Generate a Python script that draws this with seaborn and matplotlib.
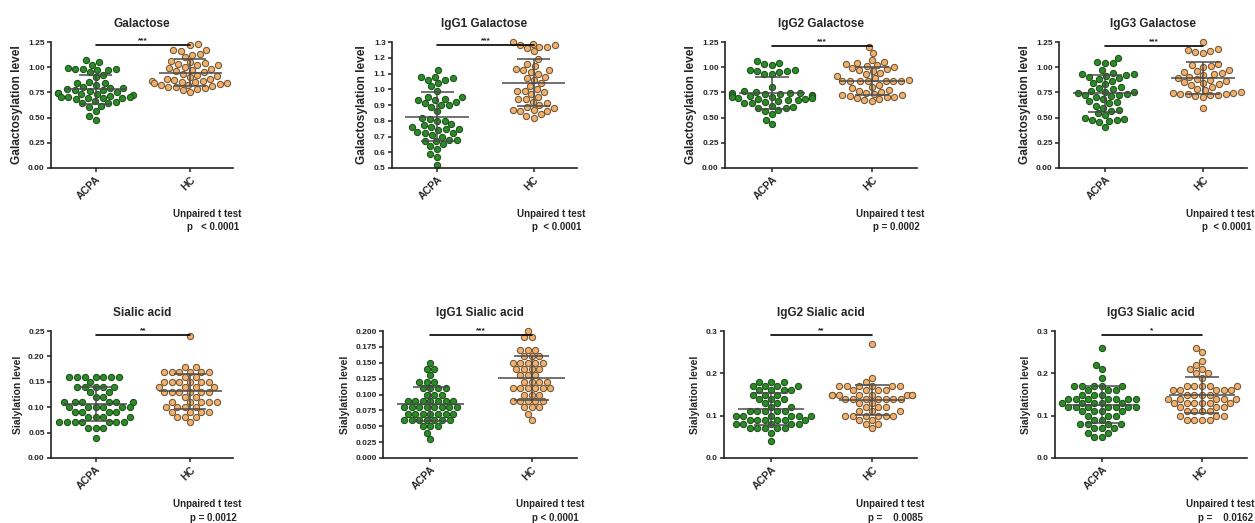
import numpy as np
import pandas as pd
import matplotlib
matplotlib.use("Agg")
import matplotlib.pyplot as plt
import seaborn as sns

sns.set_style("ticks")
plt.rcParams['font.family'] = ['Liberation Sans', 'DejaVu Sans']
plt.rcParams['font.weight'] = 'bold'

groups = ["ACPA", "HC"]

titles = ["Galactose", "IgG1 Galactose", "IgG2 Galactose", "IgG3 Galactose",
          "Sialic acid", "IgG1 Sialic acid", "IgG2 Sialic acid", "IgG3 Sialic acid"]
ylabels = ["Galactosylation level"] * 4 + ["Sialylation level"] * 4
stars = ["***", "***", "***", "***", "**", "***", "**", "*"]
pvals = ["p   < 0.0001", "p  < 0.0001", "p = 0.0002", "p  < 0.0001",
         "p = 0.0012", "p < 0.0001", "p =    0.0085", "p =    0.0162"]
yticks = [
    [0.00, 0.25, 0.50, 0.75, 1.00, 1.25],
    [0.5, 0.6, 0.7, 0.8, 0.9, 1.0, 1.1, 1.2, 1.3],
    [0.00, 0.25, 0.50, 0.75, 1.00, 1.25],
    [0.00, 0.25, 0.50, 0.75, 1.00, 1.25],
    [0.00, 0.05, 0.10, 0.15, 0.20, 0.25],
    [0.000, 0.025, 0.050, 0.075, 0.100, 0.125, 0.150, 0.175, 0.200],
    [0.0, 0.1, 0.2, 0.3],
    [0.0, 0.1, 0.2, 0.3],
]
ytick_fmt = ["{:.2f}", "{:.1f}", "{:.2f}", "{:.2f}", "{:.2f}", "{:.3f}", "{:.1f}", "{:.1f}"]
bar_y = [1.22, 1.28, 1.21, 1.21, 0.243, 0.194, 0.29, 0.29]

# ---- data ----
acpa_gal = [1.02, 1.05, 1.07, 0.98, 0.98, 0.97, 0.98, 0.99, 0.97, 0.95, 0.92, 0.90, 0.84, 0.84,
            0.85, 0.82, 0.80, 0.79, 0.79, 0.78, 0.77, 0.77, 0.76, 0.75, 0.74, 0.74, 0.73, 0.73,
            0.72, 0.71, 0.70, 0.70, 0.69, 0.69, 0.70, 0.69, 0.68, 0.66, 0.65, 0.64, 0.64, 0.62,
            0.61, 0.57, 0.52, 0.48]
hc_gal = [1.23, 1.22, 1.17, 1.17, 1.16, 1.13, 1.12, 1.10, 1.06, 1.05, 1.04, 1.03, 1.02, 1.02,
          1.00, 0.99, 0.98, 0.97, 0.96, 0.95, 0.93, 0.92, 0.90, 0.88, 0.87, 0.86, 0.86, 0.85,
          0.84, 0.84, 0.83, 0.82, 0.82, 0.81, 0.80, 0.80, 0.79, 0.78, 0.77, 0.75, 0.85, 0.88, 0.91]

acpa_g1gal = [1.12, 1.08, 1.08, 1.07, 1.06, 1.06, 1.04, 1.02, 0.99, 0.95, 0.95, 0.94, 0.93, 0.93,
              0.92, 0.91, 0.90, 0.90, 0.89, 0.86, 0.82, 0.81, 0.80, 0.80, 0.78, 0.77, 0.76, 0.76,
              0.75, 0.75, 0.74, 0.73, 0.72, 0.72, 0.71, 0.70, 0.68, 0.68, 0.67, 0.67, 0.65, 0.64,
              0.62, 0.59, 0.57, 0.52]
hc_g1gal = [1.30, 1.29, 1.28, 1.28, 1.27, 1.27, 1.26, 1.24, 1.19, 1.16, 1.15, 1.13, 1.12, 1.12,
            1.11, 1.10, 1.08, 1.07, 1.06, 1.04, 1.02, 1.00, 0.99, 0.99, 0.98, 0.97, 0.95, 0.94,
            0.94, 0.92, 0.91, 0.90, 0.89, 0.88, 0.87, 0.87, 0.86, 0.86, 0.84, 0.83, 0.82]

acpa_g2gal = [1.06, 1.04, 1.03, 1.02, 0.97, 0.97, 0.96, 0.96, 0.95, 0.93, 0.93, 0.80, 0.76, 0.75,
              0.74, 0.74, 0.74, 0.73, 0.73, 0.72, 0.72, 0.71, 0.71, 0.70, 0.70, 0.69, 0.69, 0.68,
              0.68, 0.67, 0.67, 0.66, 0.65, 0.64, 0.64, 0.62, 0.61, 0.60, 0.60, 0.58, 0.57, 0.54,
              0.48, 0.44]
hc_g2gal = [1.20, 1.14, 1.07, 1.05, 1.04, 1.03, 1.02, 1.01, 1.00, 0.99, 0.98, 0.97, 0.96, 0.94,
            0.93, 0.91, 0.89, 0.87, 0.86, 0.86, 0.86, 0.86, 0.86, 0.86, 0.86, 0.82, 0.80, 0.79,
            0.77, 0.76, 0.75, 0.74, 0.73, 0.72, 0.72, 0.71, 0.70, 0.70, 0.69, 0.68, 0.67, 0.66]

acpa_g3gal = [1.09, 1.05, 1.04, 1.04, 0.97, 0.94, 0.93, 0.93, 0.92, 0.91, 0.90, 0.89, 0.88, 0.86,
              0.84, 0.83, 0.80, 0.79, 0.78, 0.76, 0.75, 0.75, 0.74, 0.73, 0.72, 0.72, 0.71, 0.70,
              0.68, 0.66, 0.65, 0.64, 0.62, 0.60, 0.58, 0.57, 0.55, 0.53, 0.50, 0.49, 0.48, 0.48,
              0.47, 0.46, 0.41]
hc_g3gal = [1.25, 1.18, 1.17, 1.16, 1.15, 1.14, 1.03, 1.02, 1.01, 1.00, 0.97, 0.96, 0.95, 0.94,
            0.93, 0.92, 0.90, 0.89, 0.88, 0.87, 0.86, 0.85, 0.84, 0.83, 0.82, 0.80, 0.78, 0.77,
            0.75, 0.74, 0.74, 0.73, 0.73, 0.73, 0.72, 0.72, 0.71, 0.70, 0.60]

acpa_sia = [0.16, 0.16, 0.16, 0.16, 0.16, 0.16, 0.16, 0.15, 0.14, 0.14, 0.14, 0.14, 0.14,
            0.13, 0.13, 0.12, 0.12, 0.11, 0.11, 0.11, 0.11, 0.11, 0.11, 0.10, 0.10, 0.10, 0.10,
            0.10, 0.10, 0.09, 0.09, 0.09, 0.09, 0.08, 0.08, 0.08, 0.08, 0.07, 0.07, 0.07, 0.07,
            0.07, 0.07, 0.07, 0.06, 0.06, 0.06, 0.04]
hc_sia = [0.24, 0.18, 0.18, 0.17, 0.17, 0.17, 0.17, 0.17, 0.17, 0.16, 0.16, 0.15, 0.15, 0.15,
          0.15, 0.15, 0.15, 0.14, 0.14, 0.14, 0.14, 0.13, 0.13, 0.13, 0.13, 0.13, 0.13, 0.12,
          0.12, 0.11, 0.11, 0.11, 0.11, 0.11, 0.10, 0.10, 0.10, 0.10, 0.09, 0.09, 0.09, 0.09,
          0.08, 0.08, 0.08, 0.07]

acpa_g1sia = [0.15, 0.14, 0.14, 0.13, 0.12, 0.12, 0.12, 0.11, 0.11, 0.11, 0.11, 0.10, 0.10, 0.10,
              0.09, 0.09, 0.09, 0.09, 0.09, 0.09, 0.09, 0.08, 0.08, 0.08, 0.08, 0.08, 0.08, 0.08,
              0.08, 0.07, 0.07, 0.07, 0.07, 0.07, 0.07, 0.07, 0.06, 0.06, 0.06, 0.06, 0.06, 0.06,
              0.06, 0.05, 0.05, 0.05, 0.04, 0.03]
hc_g1sia = [0.20, 0.19, 0.19, 0.17, 0.17, 0.17, 0.16, 0.16, 0.16, 0.15, 0.15, 0.15, 0.15, 0.15,
            0.14, 0.14, 0.14, 0.14, 0.13, 0.13, 0.13, 0.12, 0.12, 0.12, 0.12, 0.11, 0.11, 0.11,
            0.11, 0.11, 0.11, 0.10, 0.10, 0.10, 0.09, 0.09, 0.09, 0.09, 0.09, 0.08, 0.08, 0.08,
            0.07, 0.06]

acpa_g2sia = [0.18, 0.18, 0.18, 0.17, 0.17, 0.17, 0.17, 0.16, 0.16, 0.16, 0.16, 0.15, 0.15, 0.15,
              0.14, 0.14, 0.14, 0.13, 0.13, 0.12, 0.12, 0.11, 0.11, 0.11, 0.11, 0.11, 0.10, 0.10,
              0.10, 0.10, 0.10, 0.10, 0.09, 0.09, 0.09, 0.09, 0.09, 0.09, 0.08, 0.08, 0.08, 0.08,
              0.08, 0.07, 0.07, 0.07, 0.07, 0.07, 0.06, 0.04]
hc_g2sia = [0.27, 0.19, 0.18, 0.17, 0.17, 0.17, 0.17, 0.17, 0.17, 0.16, 0.16, 0.16, 0.16, 0.15,
            0.15, 0.15, 0.15, 0.15, 0.15, 0.15, 0.15, 0.14, 0.14, 0.14, 0.14, 0.14, 0.14, 0.14,
            0.13, 0.13, 0.12, 0.12, 0.12, 0.11, 0.11, 0.11, 0.10, 0.10, 0.10, 0.10, 0.10, 0.10,
            0.09, 0.09, 0.08, 0.08, 0.07]

acpa_g3sia = [0.26, 0.22, 0.21, 0.19, 0.17, 0.17, 0.17, 0.17, 0.17, 0.16, 0.16, 0.16, 0.15, 0.15,
              0.15, 0.14, 0.14, 0.14, 0.14, 0.14, 0.14, 0.14, 0.13, 0.13, 0.13, 0.13, 0.13, 0.12,
              0.12, 0.12, 0.12, 0.12, 0.12, 0.12, 0.11, 0.11, 0.11, 0.11, 0.10, 0.10, 0.10, 0.09,
              0.09, 0.08, 0.08, 0.08, 0.08, 0.07, 0.07, 0.07, 0.06, 0.06, 0.05, 0.05]
hc_g3sia = [0.26, 0.25, 0.23, 0.22, 0.21, 0.21, 0.20, 0.20, 0.19, 0.17, 0.17, 0.17, 0.17, 0.17,
            0.16, 0.16, 0.16, 0.16, 0.16, 0.15, 0.15, 0.15, 0.15, 0.14, 0.14, 0.14, 0.14, 0.14,
            0.13, 0.13, 0.13, 0.13, 0.13, 0.13, 0.12, 0.12, 0.12, 0.11, 0.11, 0.11, 0.11, 0.10,
            0.10, 0.10, 0.09, 0.09, 0.09, 0.09]

acpa_sets = [acpa_gal, acpa_g1gal, acpa_g2gal, acpa_g3gal, acpa_sia, acpa_g1sia, acpa_g2sia, acpa_g3sia]
hc_sets = [hc_gal, hc_g1gal, hc_g2gal, hc_g3gal, hc_sia, hc_g1sia, hc_g2sia, hc_g3sia]

# ---- styling ----
fill = {"ACPA": "#2c8a28", "HC": "#f2b070"}
edge = {"ACPA": "#1d4f1a", "HC": "#6e5530"}
line_col = "#4a4a4a"

W, H = 1255, 523
fig = plt.figure(figsize=(W / 100, H / 100), dpi=100)

# axes boxes in pixels: (left, right, top, bottom)
boxes = [
    (51, 233, 42, 168), (392, 577, 42, 168), (725, 917, 42, 168), (1059, 1247, 42, 168),
    (51, 233, 331, 458), (383, 577, 331, 458), (724, 917, 331, 458), (1055, 1247, 331, 458),
]

for i in range(8):
    l, r, t, b = boxes[i]
    ax = fig.add_axes([l / W, 1 - b / H, (r - l) / W, (b - t) / H])
    a, h = acpa_sets[i], hc_sets[i]
    df = pd.DataFrame({"group": ["ACPA"] * len(a) + ["HC"] * len(h), "value": a + h})
    for g in groups:
        n0 = len(ax.collections)
        sns.swarmplot(data=df[df.group == g], x="group", y="value", order=groups,
                      color=fill[g], size=4.5, linewidth=0.75, ax=ax, zorder=2, warn_thresh=1)
        for c in ax.collections[n0:]:
            c.set_edgecolor(edge[g])
            c.set_clip_on(False)
    # mean +/- SD
    for k, vals in enumerate([a, h]):
        m = np.mean(vals)
        s = np.std(vals, ddof=1)
        ax.hlines(m, k - 0.33, k + 0.33, color=line_col, lw=1.1, zorder=3)
        ax.hlines([m - s, m + s], k - 0.17, k + 0.17, color=line_col, lw=1.1, zorder=3)
        ax.vlines(k, m - s, m + s, color=line_col, lw=1.1, zorder=3)
    # significance bar
    ax.plot([0, 1], [bar_y[i], bar_y[i]], color="black", lw=1.2, clip_on=False, zorder=4)
    ax.annotate(stars[i], xy=(0.5, bar_y[i]), xytext=(0, 0.5), textcoords="offset points",
                ha="center", va="bottom", fontsize=6, fontweight="bold", color="#222222",
                annotation_clip=False)

    yt = yticks[i]
    ax.set_ylim(yt[0], yt[-1])
    ax.set_yticks(yt)
    ax.set_yticklabels([ytick_fmt[i].format(v) for v in yt], fontsize=6, fontweight="bold")
    ax.set_xlim(-0.47, 1.45)
    ax.set_xticks([0, 1])
    ax.set_xticklabels(groups, rotation=45, ha="right", rotation_mode="anchor",
                       fontsize=7.5, fontweight="bold")
    ax.set_xlabel("")
    ax.set_ylabel(ylabels[i], fontsize=8.6 if i < 4 else 7.5, fontweight="bold", labelpad=4)
    ax.set_title(titles[i], fontsize=8.5, fontweight="bold", pad=11)
    for sp in ["top", "right"]:
        ax.spines[sp].set_visible(False)
    for sp in ["left", "bottom"]:
        ax.spines[sp].set_linewidth(1.2)
        ax.spines[sp].set_color("#222222")
    ax.tick_params(axis="both", direction="out", length=3, width=1.1, pad=1.5, color="#222222")

    ax.text(0.86, -0.365, "Unpaired t test", transform=ax.transAxes, ha="center", va="center",
            fontsize=7, fontweight="bold")
    ax.text(0.89, -0.47, pvals[i], transform=ax.transAxes, ha="center", va="center",
            fontsize=7, fontweight="bold")

fig.savefig("out.png", dpi=100, facecolor="white")
